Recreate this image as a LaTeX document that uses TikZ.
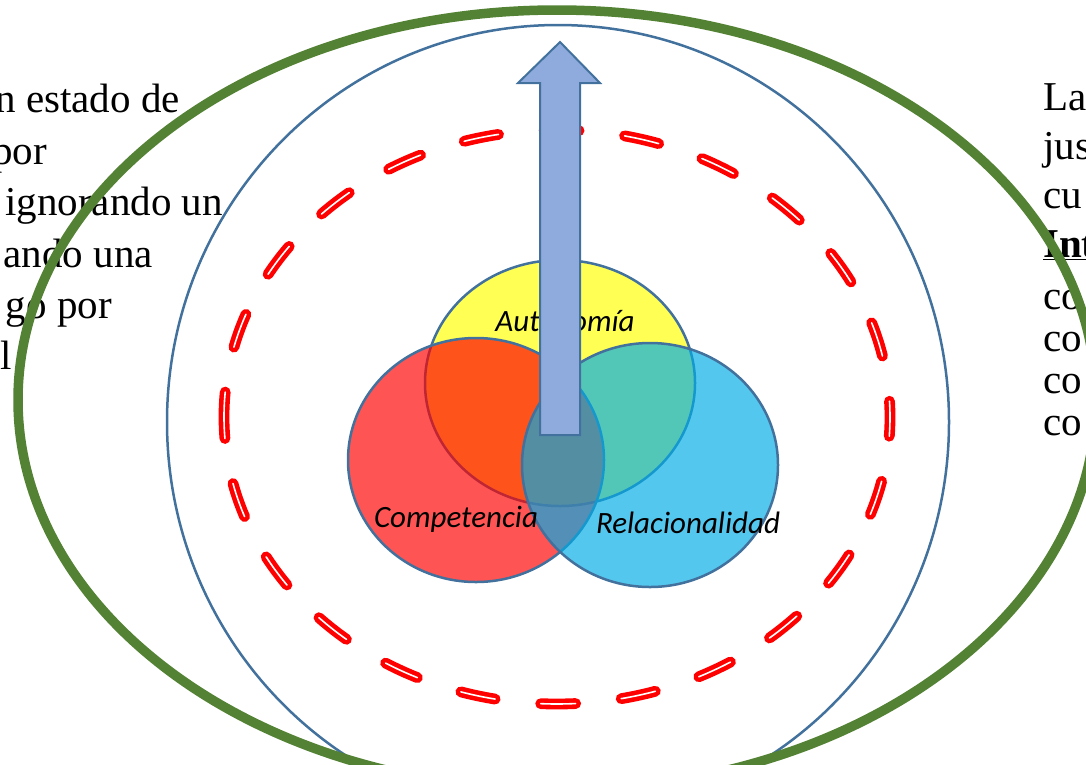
\documentclass[tikz,border=0pt]{standalone}
\usepackage{fontspec}
\setmainfont{Liberation Serif}
\newfontfamily\vennfont{Carlito}
\usepackage{tikz}
\usetikzlibrary{positioning}
\definecolor{ringgreen}{RGB}{84,130,53}
\definecolor{ringblue}{RGB}{65,113,156}
\definecolor{arrowblue}{RGB}{143,170,220}
\definecolor{vennyellow}{RGB}{255,255,0}
\definecolor{vennred}{RGB}{255,0,0}
\definecolor{vennblue}{RGB}{0,172,231}
\tikzset{lefttext/.style={inner sep=0pt, anchor=base east, font=\fontsize{41}{47}\selectfont}}
\tikzset{righttext/.style={inner sep=0pt, anchor=base west, font=\fontsize{41}{47}\selectfont}}
\tikzset{venntext/.style={inner sep=0pt, anchor=base, font=\vennfont\itshape\fontsize{31}{37}\selectfont}}
\tikzset{vennset/.style={draw=ringblue, line width=2.5pt, fill opacity=0.67}}
\tikzset{dashring/.style={draw=red, line width=4.6pt, double=white, double distance=1.6pt, line cap=round,
 dash pattern=on 35pt off 45.8pt}}
\tikzset{bigarrow/.style={draw=ringblue, fill=arrowblue, line width=2pt, line join=miter}}

\begin{document}
\begin{tikzpicture}[x=1pt,y=-1pt]
        \useasboundingbox (0,0) rectangle (1086,764);

        \node[lefttext] (izq1) at (180,112) {n estado de};
        \node[lefttext] (izq2) at (47,164)  {por};
        \node[lefttext] (izq3) at (223,215) {ignorando un};
        \node[lefttext] (izq4) at (153,267) {ando una};
        \node[lefttext] (izq5) at (112,318) {go por};
        \node[lefttext] (izq6) at (12,369)  {l};

        \node[righttext] (der1) at (1043,110) {La};
        \node[righttext] (der2) at (1043,159) {jus};
        \node[righttext] (der3) at (1043,208) {cu};
        \node[righttext] (der4) at (1043,257) {\underline{\textbf{Int}}};
        \node[righttext] (der5) at (1043,309) {co};
        \node[righttext] (der6) at (1043,351) {co};
        \node[righttext] (der7) at (1043,393) {co};
        \node[righttext] (der8) at (1043,435) {co};

        \draw[ringblue, line width=2.5pt] (558,422) ellipse [x radius=391, y radius=397];
        \draw[dashring] (224.2,427) arc [start angle=178, end angle=538, x radius=333, y radius=287];

        \path[vennset, fill=vennyellow] (560,383) ellipse [x radius=135, y radius=123];
        \path[vennset, fill=vennred]    (476,460) ellipse [x radius=128, y radius=122];
        \path[vennset, fill=vennblue]   (650,465) ellipse [x radius=128, y radius=122];

        \node[venntext] (auto) at (565,331) {Autonomía};
        \node[venntext] (comp) at (456,527) {Competencia};
        \node[venntext] (rela) at (688,533) {Relacionalidad};

        \draw[bigarrow] (540,435) -- (540,83) -- (518,83) -- (560,42) -- (600,83) -- (580,83) -- (580,435) -- cycle;

        \draw[ringgreen, line width=9.5pt] (557,400) ellipse [x radius=539, y radius=390];

     \end{tikzpicture}
\end{document}
